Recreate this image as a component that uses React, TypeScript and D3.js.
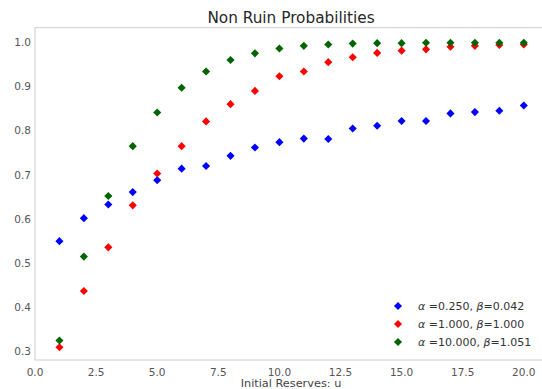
import React from "react";
import * as d3 from "d3";

const W = 542;
const H = 389;

const reserves = [1, 2, 3, 4, 5, 6, 7, 8, 9, 10, 11, 12, 13, 14, 15, 16, 17, 18, 19, 20];
const blueVals = [0.55, 0.602, 0.633, 0.661, 0.688, 0.714, 0.72, 0.743, 0.762, 0.774, 0.782, 0.781, 0.805, 0.811, 0.822, 0.822, 0.839, 0.842, 0.845, 0.857];
const redVals = [0.31, 0.437, 0.536, 0.631, 0.703, 0.765, 0.821, 0.86, 0.89, 0.923, 0.934, 0.955, 0.966, 0.976, 0.981, 0.984, 0.99, 0.992, 0.994, 0.995];
const greenVals = [0.325, 0.515, 0.652, 0.765, 0.841, 0.897, 0.934, 0.96, 0.975, 0.986, 0.992, 0.995, 0.997, 0.998, 0.998, 0.999, 0.999, 0.999, 0.999, 0.999];
const xTicks = [0, 2.5, 5, 7.5, 10, 12.5, 15, 17.5, 20];
const yTicks = [0.3, 0.4, 0.5, 0.6, 0.7, 0.8, 0.9, 1.0];
const series = [
  { a: "0.250", b: "0.042", color: "#0000ff", values: blueVals },
  { a: "1.000", b: "1.000", color: "#ff0000", values: redVals },
  { a: "10.000", b: "1.051", color: "#006400", values: greenVals },
];

export default function App() {
  const left = 35, right = 547, top = 27.7, bottom = 360;
  const x = d3.scaleLinear().domain([0, 20.95]).range([left, right]);
  const y = d3.scaleLinear().domain([0.281, 1.033]).range([bottom, top]);
  const sym = d3.symbol().type(d3.symbolDiamond2).size(42);
  const font = "DejaVu Sans, sans-serif";
  return (
    <svg width={W} height={H} style={{ position: "absolute", left: 0, top: 0, background: "#fff" }} fontFamily={font}>
      <rect x={left} y={top} width={right - left} height={bottom - top} fill="#fff" stroke="#cccccc" strokeWidth={1} />
      {series.map((s) =>
        s.values.map((v, i) => (
          <path key={s.color + i} d={sym()!} transform={`translate(${x(reserves[i])},${y(v)})`} fill={s.color} />
        ))
      )}
      {yTicks.map((t) => (
        <text key={t} x={left - 4} y={y(t)} dy="0.35em" textAnchor="end" fontSize={10.5} fill="#555">
          {t.toFixed(1)}
        </text>
      ))}
      {xTicks.map((t) => (
        <text key={t} x={x(t)} y={bottom + 16} textAnchor="middle" fontSize={10.5} fill="#555">
          {t.toFixed(1)}
        </text>
      ))}
      <text x={(left + right) / 2} y={bottom + 27} textAnchor="middle" fontSize={11.3} fill="#444">
        Initial Reserves: u
      </text>
      <text x={(left + right) / 2} y={23} textAnchor="middle" fontSize={15.3} fill="#262626">
        Non Ruin Probabilities
      </text>
      {series.map((s, i) => {
        const ly = 306 + i * 18;
        return (
          <g key={s.color}>
            <path d={sym()!} transform={`translate(398,${ly})`} fill={s.color} />
            <text x={418} y={ly} dy="0.35em" fontSize={11} fill="#333">
              <tspan fontStyle="italic">α</tspan>
              {` =${s.a}, `}
              <tspan fontStyle="italic">β</tspan>
              {`=${s.b}`}
            </text>
          </g>
        );
      })}
    </svg>
  );
}
